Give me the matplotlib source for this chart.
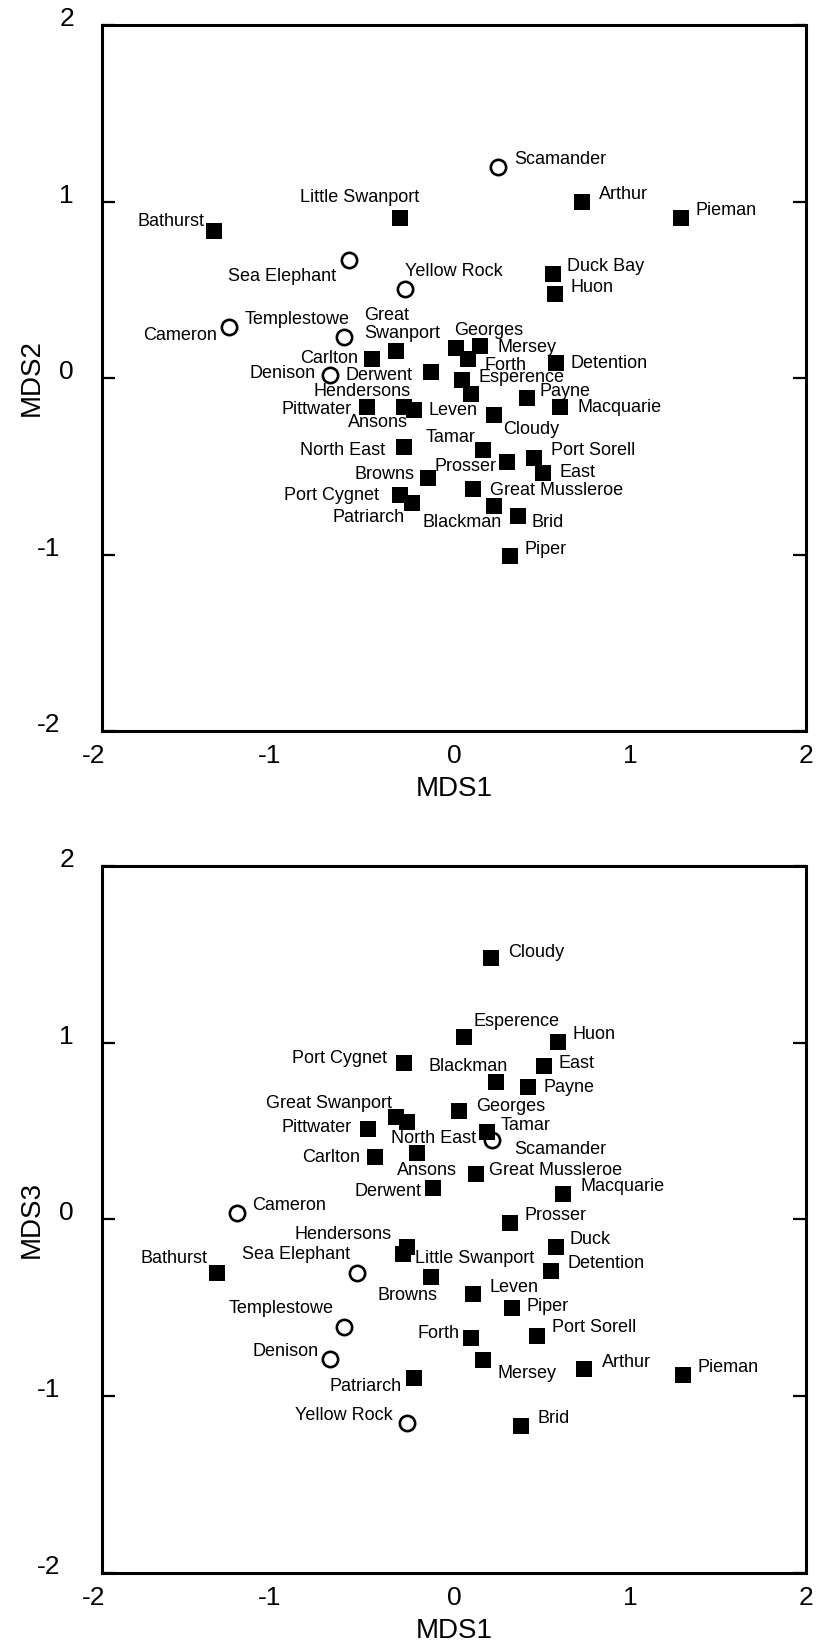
import matplotlib
matplotlib.use("Agg")
import matplotlib.pyplot as plt
import matplotlib.transforms as mtransforms

plt.rcParams['font.family'] = ['Liberation Sans', 'DejaVu Sans']

# ---- site ordination scores -------------------------------------------
sites = ["Ansons", "Arthur", "Bathurst", "Blackman", "Brid", "Browns",
         "Cameron", "Carlton", "Cloudy", "Denison", "Derwent", "Detention",
         "Duck Bay", "East", "Esperence", "Forth", "Georges",
         "Great Mussleroe", "Great Swanport", "Hendersons", "Huon", "Leven",
         "Little Swanport", "Macquarie", "Mersey", "North East", "Patriarch",
         "Payne", "Pieman", "Piper", "Pittwater", "Port Cygnet",
         "Port Sorell", "Prosser", "Scamander", "Sea Elephant", "Tamar",
         "Templestowe", "Yellow Rock"]

# sites drawn as open circles; all others are filled squares
open_sites = ["Cameron", "Denison", "Scamander", "Sea Elephant",
              "Templestowe", "Yellow Rock"]

# MDS1 vs MDS2
mds1_a = [-0.226, 0.729, -1.362, 0.229, 0.365, -0.149, -1.280, -0.468,
          0.229, -0.703, -0.132, 0.578, 0.561, 0.504, 0.047, 0.078, 0.011,
          0.106, -0.331, -0.286, 0.576, 0.095, -0.305, 0.604, 0.148, -0.286,
          -0.240, 0.413, 1.288, 0.320, -0.496, -0.305, 0.456, 0.303, 0.252,
          -0.598, 0.167, -0.627, -0.280]
mds2 = [-0.180, 0.999, 0.835, -0.724, -0.780, -0.568, 0.289, 0.109,
        -0.210, 0.017, 0.036, 0.083, 0.589, -0.540, -0.011, 0.108, 0.172,
        -0.631, 0.155, -0.163, 0.474, -0.091, 0.908, -0.163, 0.181, -0.389,
        -0.707, -0.115, 0.908, -1.007, -0.163, -0.663, -0.452, -0.478, 1.194,
        0.670, -0.408, 0.231, 0.503]

# MDS1 vs MDS3
mds1_b = [-0.212, 0.740, -1.348, 0.240, 0.379, -0.132, -1.233, -0.449,
          0.210, -0.703, -0.121, 0.549, 0.578, 0.513, 0.059, 0.095, 0.030,
          0.123, -0.331, -0.269, 0.593, 0.106, -0.288, 0.621, 0.167, -0.269,
          -0.226, 0.422, 1.303, 0.331, -0.487, -0.286, 0.470, 0.320, 0.218,
          -0.551, 0.186, -0.627, -0.267]
mds3 = [0.375, -0.848, -0.304, 0.780, -1.167, -0.324, 0.037, 0.355,
        1.482, -0.789, 0.176, -0.290, -0.154, 0.870, 1.034, -0.669, 0.616,
        0.256, 0.582, -0.154, 1.006, -0.423, -0.195, 0.146, -0.795, 0.553,
        -0.895, 0.751, -0.880, -0.502, 0.510, 0.887, -0.657, -0.018, 0.448,
        -0.304, 0.493, -0.608, -1.153]

ticks = [-2, -1, 0, 1, 2]
tick_labels = ["-2", "-1", "0", "1", "2"]

names_a = ["Great\nSwanport" if s == "Great Swanport" else s for s in sites]
names_b = ["Duck" if s == "Duck Bay" else s for s in sites]

# ---- label placement (pixel offsets from the point: right, down) -------
# the offset locates the baseline of the label's last line
place_a = {
    "Ansons": (-66, 17.6), "Arthur": (17, -2.7), "Bathurst": (-76.6, -4.7),
    "Blackman": (-71.6, 21), "Brid": (13.4, 11), "Browns": (-73.7, 1),
    "Cameron": (-86, 13), "Carlton": (-71.7, 4), "Cloudy": (8.4, 19),
    "Denison": (-80.3, 3.3), "Derwent": (-85, 8.3), "Detention": (14.3, 4.4),
    "Duck Bay": (14.6, -3), "East": (16.6, 3.4), "Esperence": (16.7, 2.3),
    "Forth": (16.6, 11), "Georges": (-1.7, -12.7),
    "Great Mussleroe": (17.3, 5.7), "Great Swanport": (-31.4, -12.4),
    "Hendersons": (-90.4, -10.7), "Huon": (14.7, -2), "Leven": (-42.4, 21),
    "Little Swanport": (-100.3, -15.4), "Macquarie": (17.4, 5.6),
    "Mersey": (17.3, 6.3), "North East": (-103.7, 8.3),
    "Patriarch": (-79.4, 19), "Payne": (13.3, -2.3), "Pieman": (15, -2.7),
    "Piper": (14, -1.7), "Pittwater": (-85, 7.6), "Port Cygnet": (-116, 5),
    "Port Sorell": (16.7, -2.7), "Prosser": (-73, 8.4),
    "Scamander": (15.7, -3.3), "Sea Elephant": (-120.4, 21.6),
    "Tamar": (-57.3, -7.7), "Templestowe": (-98.7, -13.3),
    "Yellow Rock": (0.3, -13.3),
}
place_b = {
    "Ansons": (-20, 21.7), "Arthur": (17.4, -2.6), "Bathurst": (-76.7, -10.6),
    "Blackman": (-68, -11), "Brid": (17, -3), "Browns": (-53, 23.3),
    "Cameron": (15.3, -3), "Carlton": (-72.7, 5), "Cloudy": (16.8, -1),
    "Denison": (-78, -3), "Derwent": (-78.7, 7.7), "Detention": (16.6, -2.4),
    "Duck Bay": (13.6, -2.7), "East": (14.7, 2.6), "Esperence": (9, -11),
    "Forth": (-53, 0), "Georges": (16.7, 0), "Great Mussleroe": (13.6, 0.7),
    "Great Swanport": (-130, -8.4), "Hendersons": (-111.7, -7.7),
    "Huon": (14, -2.4), "Leven": (16.6, -2), "Little Swanport": (11.7, 9.3),
    "Macquarie": (17.4, -2.7), "Mersey": (14, 18.3),
    "North East": (-15.7, 21), "Patriarch": (-84.3, 13), "Payne": (15, 5),
    "Pieman": (14.4, -2.7), "Piper": (14.4, 2.4), "Pittwater": (-86.6, 3),
    "Port Cygnet": (-111.4, 0.6), "Port Sorell": (15, -4),
    "Prosser": (14, -2.7), "Scamander": (21.7, 13.7),
    "Sea Elephant": (-115.3, -14), "Tamar": (14.3, -2.3),
    "Templestowe": (-115.4, -13.7), "Yellow Rock": (-112, -3.3),
}

DPI = 100
fig = plt.figure(figsize=(8.17, 16.44), dpi=DPI)
fig.patch.set_facecolor("white")
ax_top = fig.add_axes([0.12485, 0.55535, 0.86169, 0.42944])
ax_bot = fig.add_axes([0.12485, 0.04319, 0.86169, 0.43005])


def shift(dx, dy):
    """Translation by (dx, dy) pixels, y upwards."""
    return mtransforms.ScaledTranslation(dx / DPI, dy / DPI,
                                         fig.dpi_scale_trans)


def draw_panel(ax, xs, ys, labels, place, ylabel):
    for x, y, site, lab in zip(xs, ys, sites, labels):
        if site in open_sites:
            ax.plot(x, y, marker='o', ms=11, mfc='white', mec='black',
                    mew=1.9, ls='none', zorder=3)
        else:
            ax.plot(x, y, marker='s', ms=12, mfc='black', mec='black',
                    mew=0, ls='none', zorder=3)
        dx, dy = place[site]
        ax.annotate(lab, (x, y), xytext=(dx, -dy), textcoords='offset pixels',
                    ha='left', va='baseline', fontsize=13, linespacing=1.09,
                    zorder=4)

    ax.set_xlim(-2, 2)
    ax.set_ylim(-2, 2)
    ax.set_xticks(ticks)
    ax.set_yticks(ticks)
    for sp in ax.spines.values():
        sp.set_linewidth(2.2)
    ax.tick_params(axis='y', direction='in', length=9.4, width=1.6,
                   left=True, right=True, labelleft=False)
    ax.tick_params(axis='x', bottom=False, labelbottom=False)

    # tick labels: the digit sits on the tick, a minus sign hangs outside it
    for v, s in zip(ticks, tick_labels):
        dx = -28 - (14 if v < 0 else 0)
        ax.text(0, v, s, transform=ax.get_yaxis_transform() + shift(dx, 6),
                ha='right', va='center', fontsize=19)
        ax.text(v, 0, s,
                transform=ax.get_xaxis_transform()
                + shift(-8 if v < 0 else 0, -13),
                ha='center', va='top', fontsize=19)

    ax.set_xlabel("MDS1", fontsize=20)
    ax.xaxis.set_label_coords(0.5, -0.082)
    ax.xaxis.label.set_va('center')
    ax.set_ylabel(ylabel, fontsize=20)
    ax.yaxis.set_label_coords(-0.1, 0.5)
    ax.yaxis.label.set_va('center')


draw_panel(ax_top, mds1_a, mds2, names_a, place_a, "MDS2")
draw_panel(ax_bot, mds1_b, mds3, names_b, place_b, "MDS3")

fig.savefig("out.png", dpi=DPI, facecolor="white")
